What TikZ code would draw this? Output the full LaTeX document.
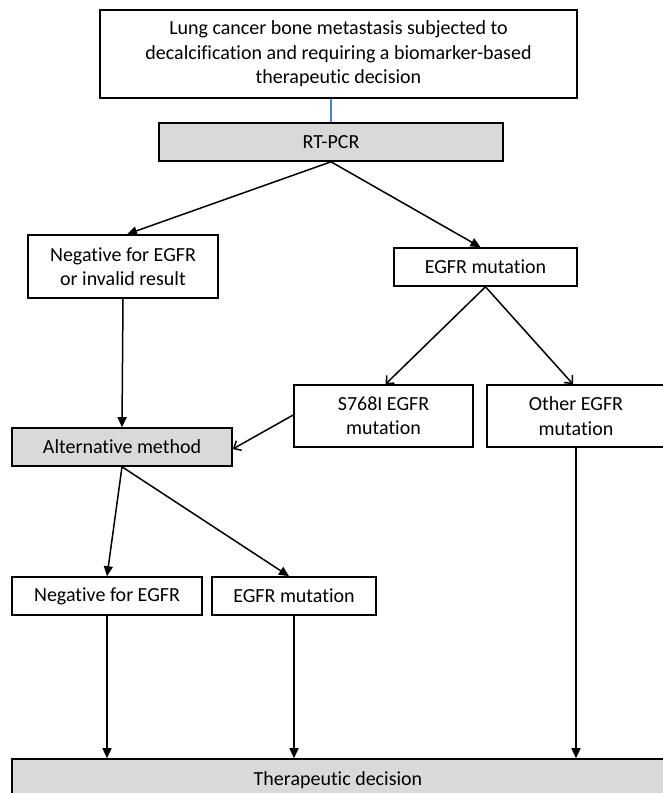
\documentclass[tikz,border=0pt]{standalone}
\usepackage{fontspec}
\setmainfont{Carlito}[Ligatures=NoCommon]
\usetikzlibrary{arrows.meta}
\definecolor{boxgray}{HTML}{D9D9D9}
\definecolor{linkblue}{HTML}{4F81BD}

\begin{document}
\begin{tikzpicture}[x=1pt, y=-1pt,
    box/.style={draw=black, line width=1.6pt, fill=white, align=center,
      inner sep=0pt, font=\fontsize{20}{24.4}\selectfont},
    graybox/.style={box, fill=boxgray},
    fwd/.style={line width=1.5pt, -{Triangle[length=10pt,width=9pt]}},
    opn/.style={line width=1.5pt, -{Straight Barb[length=6pt,width=11pt]}}]
      \useasboundingbox (0,0) rectangle (662,793);

      \node[box, minimum width=477pt, minimum height=88pt] (top) at (338.5,54)
        {Lung cancer bone metastasis subjected to\\decalcification and requiring a biomarker-based\\therapeutic decision};
      \node[graybox, minimum width=344pt, minimum height=38pt] (rtpcr) at (331,142) {RT-PCR};

      \node[box, minimum width=190pt, minimum height=63pt] (neg1) at (123,266.5) {Negative for EGFR\\or invalid result};
      \node[box, minimum width=183pt, minimum height=38pt] (egfr1) at (485.5,267) {EGFR mutation};

      \node[box, minimum width=179pt, minimum height=62pt] (s768) at (383.5,416) {S768I EGFR\\mutation};
      \node[box, minimum width=178pt, minimum height=62pt] (other) at (576,416) {Other EGFR\\mutation};
      \node[graybox, minimum width=220pt, minimum height=38pt] (alt) at (122,447) {Alternative method};

      \node[box, minimum width=190pt, minimum height=38pt] (neg2) at (107,596) {Negative for EGFR};
      \node[box, minimum width=164pt, minimum height=38pt] (egfr2) at (294,596) {EGFR mutation};

      \node[graybox, minimum width=652pt, minimum height=42pt] (thera) at (338,780) {Therapeutic decision};

      \draw[linkblue, line width=1.3pt] (rtpcr.north) -- (rtpcr.north |- top.south);

      \draw[fwd] (rtpcr.south) -- ([xshift=4pt]neg1.north);
      \draw[fwd] (rtpcr.south) -- ([xshift=-5pt]egfr1.north);

      \draw[opn] (egfr1.south) -- ([xshift=2pt]s768.north);
      \draw[opn] (egfr1.south) -- ([xshift=-3pt]other.north);

      \draw[fwd] (neg1.south) -- (alt.north);
      \draw[opn] ([yshift=1pt]s768.west) -- ([yshift=-2pt]alt.east);

      \draw[fwd] (alt.south) -- (neg2.north);
      \draw[fwd] (alt.south) -- ([xshift=-5pt]egfr2.north);

      \draw[fwd] (neg2.south) -- (neg2.south |- thera.north);
      \draw[fwd] (egfr2.south) -- (egfr2.south |- thera.north);
      \draw[fwd] (other.south) -- (other.south |- thera.north);
\end{tikzpicture}
\end{document}
